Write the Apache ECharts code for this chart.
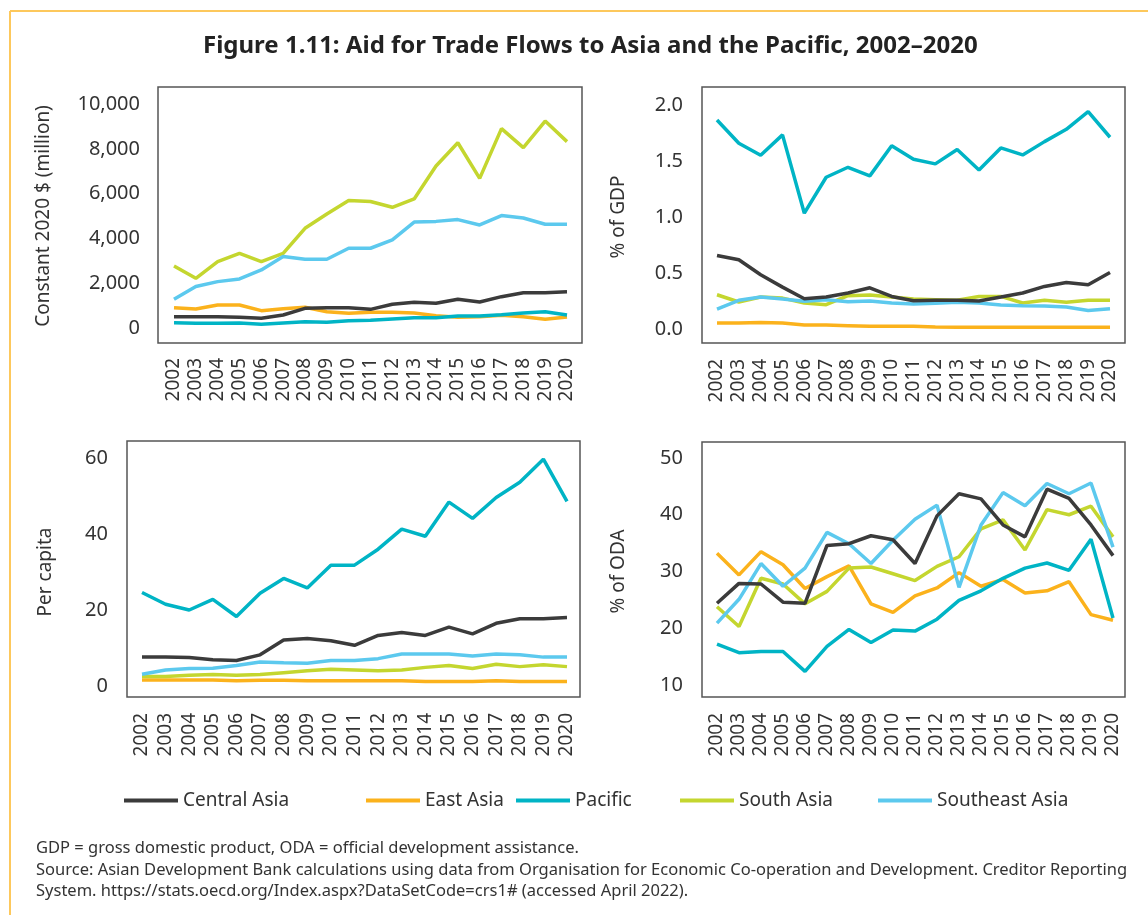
<!DOCTYPE html>
<html>
<head>
<meta charset="utf-8">
<script src="https://cdn.jsdelivr.net/npm/echarts@6/dist/echarts.min.js"></script>
<style>
  html, body { margin: 0; padding: 0; background: #fff; }
  #chart { width: 1148px; height: 915px; }
</style>
</head>
<body>
<div id="chart"></div>
<script>
// years on every x axis
const years = ['2002','2003','2004','2005','2006','2007','2008','2009','2010','2011',
               '2012','2013','2014','2015','2016','2017','2018','2019','2020'];
const regions = ['Central Asia', 'East Asia', 'Pacific', 'South Asia', 'Southeast Asia'];
const colors = ['#3b3b3b', '#fbb21c', '#00b4c5', '#c4d62f', '#5cc9ee'];

// constant 2020 $ (million)
const usdCentral   = [506, 506, 506, 476, 432, 580, 878, 908, 908, 833, 1057, 1146, 1101, 1280, 1161, 1399, 1577, 1577, 1622];
const usdEast      = [908, 848, 1027, 1027, 774, 863, 923, 729, 655, 699, 700, 670, 551, 476, 506, 565, 506, 387, 491];
const usdPacific   = [238, 208, 208, 223, 164, 223, 283, 253, 327, 342, 402, 461, 461, 536, 536, 595, 670, 729, 580];
const usdSouth     = [2770, 2220, 2960, 3330, 2960, 3330, 4450, 5090, 5690, 5650, 5390, 5760, 7230, 8270, 6680, 8900, 8050, 9240, 8320];
const usdSoutheast = [1280, 1850, 2070, 2190, 2590, 3190, 3070, 3070, 3560, 3560, 3930, 4730, 4760, 4840, 4600, 5020, 4910, 4630, 4630];

// % of GDP
const gdpCentral   = [0.657, 0.618, 0.484, 0.374, 0.270, 0.285, 0.321, 0.368, 0.291, 0.253, 0.256, 0.256, 0.250, 0.285, 0.321, 0.380, 0.416, 0.395, 0.505];
const gdpEast      = [0.053, 0.053, 0.059, 0.053, 0.036, 0.036, 0.030, 0.024, 0.024, 0.024, 0.018, 0.016, 0.016, 0.016, 0.015, 0.015, 0.015, 0.015, 0.015];
const gdpPacific   = [1.866, 1.658, 1.551, 1.733, 1.034, 1.355, 1.444, 1.367, 1.637, 1.516, 1.474, 1.602, 1.420, 1.617, 1.554, 1.673, 1.783, 1.941, 1.712];
const gdpSouth     = [0.306, 0.241, 0.285, 0.276, 0.232, 0.217, 0.297, 0.303, 0.285, 0.267, 0.262, 0.256, 0.291, 0.291, 0.232, 0.256, 0.238, 0.256, 0.256];
const gdpSoutheast = [0.178, 0.256, 0.285, 0.267, 0.247, 0.262, 0.244, 0.250, 0.232, 0.223, 0.229, 0.238, 0.232, 0.214, 0.208, 0.205, 0.196, 0.166, 0.181];

// per capita
const capCentral   = [7.6, 7.6, 7.5, 6.9, 6.7, 8.2, 12.1, 12.5, 11.9, 10.7, 13.3, 14.1, 13.3, 15.5, 13.7, 16.5, 17.7, 17.7, 18.0];
const capEast      = [1.6, 1.6, 1.6, 1.6, 1.4, 1.5, 1.5, 1.4, 1.4, 1.4, 1.4, 1.4, 1.2, 1.2, 1.2, 1.4, 1.2, 1.2, 1.2];
const capPacific   = [24.6, 21.5, 20.0, 22.8, 18.3, 24.4, 28.3, 25.8, 31.8, 31.8, 36.0, 41.3, 39.4, 48.4, 44.1, 49.6, 53.6, 59.7, 48.6];
const capSouth     = [2.5, 2.5, 2.8, 3.0, 2.8, 3.0, 3.5, 4.0, 4.4, 4.2, 4.0, 4.2, 4.9, 5.4, 4.6, 5.7, 5.1, 5.6, 5.1];
const capSoutheast = [3.1, 4.2, 4.6, 4.7, 5.4, 6.3, 6.1, 6.0, 6.7, 6.7, 7.2, 8.4, 8.4, 8.4, 7.9, 8.4, 8.2, 7.6, 7.6];

// % of ODA
const odaCentral   = [24.4, 27.9, 27.8, 24.6, 24.4, 34.6, 34.9, 36.3, 35.6, 31.4, 39.8, 43.7, 42.8, 38.2, 36.1, 44.5, 42.9, 38.2, 32.8];
const odaEast      = [33.2, 29.4, 33.5, 31.2, 27.0, 29.1, 31.0, 24.3, 22.8, 25.7, 27.1, 29.8, 27.4, 28.6, 26.2, 26.6, 28.2, 22.4, 21.4];
const odaPacific   = [17.2, 15.7, 15.9, 15.9, 12.4, 16.8, 19.8, 17.5, 19.7, 19.5, 21.6, 24.9, 26.6, 28.8, 30.6, 31.5, 30.2, 35.7, 21.8];
const odaSouth     = [23.8, 20.3, 28.8, 27.8, 24.3, 26.5, 30.6, 30.8, 29.6, 28.4, 30.9, 32.6, 37.5, 39.1, 33.8, 40.9, 40.0, 41.5, 36.1];
const odaSoutheast = [20.9, 25.1, 31.4, 27.4, 30.6, 36.9, 34.9, 31.4, 35.5, 39.2, 41.7, 27.2, 38.2, 43.9, 41.6, 45.5, 43.7, 45.6, 34.3];

const panelData = [
  [usdCentral, usdEast, usdPacific, usdSouth, usdSoutheast],
  [gdpCentral, gdpEast, gdpPacific, gdpSouth, gdpSoutheast],
  [capCentral, capEast, capPacific, capSouth, capSoutheast],
  [odaCentral, odaEast, odaPacific, odaSouth, odaSoutheast]
];

const FONT = 'Noto Sans';
const TXT = '#333';

// plotting areas and their frames
const grids = [
  { left: 174, top: 104, width: 393, height: 224 },
  { left: 717, top: 105, width: 393, height: 224 },
  { left: 142, top: 458, width: 425, height: 228 },
  { left: 717, top: 458, width: 396, height: 227 }
];
const frames = [
  [158, 87, 424, 256],
  [702, 87, 423, 256],
  [127, 441, 453, 256],
  [702, 442, 423, 255]
];
const yAxes = [
  { min: 0, max: 10000, interval: 2000, name: 'Constant 2020 $ (million)', nameGap: 121,
    fmt: v => v.toLocaleString('en-US') },
  { min: 0, max: 2, interval: 0.5, name: '% of GDP', nameGap: 89, fmt: v => v.toFixed(1) },
  { min: 0, max: 60, interval: 20, name: 'Per capita', nameGap: 87, fmt: v => String(v) },
  { min: 10, max: 50, interval: 10, name: '% of ODA', nameGap: 89, fmt: v => String(v) }
];
const xMargins = [30, 30, 27, 28];
const legendLefts = [119, 361, 511, 675, 873];

let option = {
  backgroundColor: '#fff',
  animation: false,
  textStyle: { fontFamily: FONT, color: TXT },
  title: {
    text: 'Figure 1.11: Aid for Trade Flows to Asia and the Pacific, 2002\u20132020',
    left: 198, top: 29,
    textStyle: { fontFamily: FONT, fontWeight: 'bold', fontSize: 24, color: '#222' }
  },
  legend: regions.map((r, i) => ({
    data: [r],
    left: legendLefts[i], top: 786,
    icon: 'rect', itemWidth: 54, itemHeight: 4,
    textStyle: { fontFamily: FONT, fontSize: 19, color: TXT }
  })),
  grid: grids.map(g => Object.assign({ containLabel: false }, g)),
  xAxis: grids.map((g, i) => ({
    type: 'category', gridIndex: i, data: years, boundaryGap: false,
    axisLine: { show: false }, axisTick: { show: false }, splitLine: { show: false },
    axisLabel: { rotate: 90, interval: 0, margin: xMargins[i], fontSize: 19, color: TXT, fontFamily: FONT }
  })),
  yAxis: yAxes.map((a, i) => ({
    type: 'value', gridIndex: i, min: a.min, max: a.max, interval: a.interval,
    name: a.name, nameLocation: 'middle', nameGap: a.nameGap,
    nameTextStyle: { fontSize: 19, color: TXT, fontFamily: FONT },
    axisLine: { show: false }, axisTick: { show: false }, splitLine: { show: false },
    axisLabel: { margin: 34, fontSize: 20, color: TXT, fontFamily: FONT, formatter: a.fmt }
  })),
  series: [],
  graphic: []
};

panelData.forEach((set, p) => {
  set.forEach((vals, r) => {
    option.series.push({
      type: 'line', name: regions[r], xAxisIndex: p, yAxisIndex: p,
      data: vals, symbol: 'none', z: r === 0 ? 3 : 2,
      lineStyle: { width: 3.5, color: colors[r] },
      itemStyle: { color: colors[r] }
    });
  });
});

frames.forEach(f => {
  option.graphic.push({
    type: 'rect', shape: { x: f[0], y: f[1], width: f[2], height: f[3] },
    style: { fill: 'none', stroke: '#555', lineWidth: 1.5 }, silent: true
  });
});

// orange page frame
option.graphic.push(
  { type: 'line', shape: { x1: 10, y1: 11, x2: 1148, y2: 11 }, style: { stroke: '#fdc85c', lineWidth: 2 } },
  { type: 'line', shape: { x1: 10, y1: 11, x2: 10, y2: 915 }, style: { stroke: '#fdc85c', lineWidth: 2 } }
);

const notes = [
  'GDP = gross domestic product, ODA = official development assistance.',
  'Source: Asian Development Bank calculations using data from Organisation for Economic Co-operation and Development. Creditor Reporting',
  'System. https://stats.oecd.org/Index.aspx?DataSetCode=crs1# (accessed April 2022).'
];
notes.forEach((t, i) => {
  option.graphic.push({
    type: 'text', left: 36, top: 840 + i * 21.5,
    style: { text: t, font: '16.5px "Noto Sans"', fill: TXT }
  });
});

let chart = echarts.init(document.getElementById('chart'));
chart.setOption(option);
</script>
</body>
</html>
